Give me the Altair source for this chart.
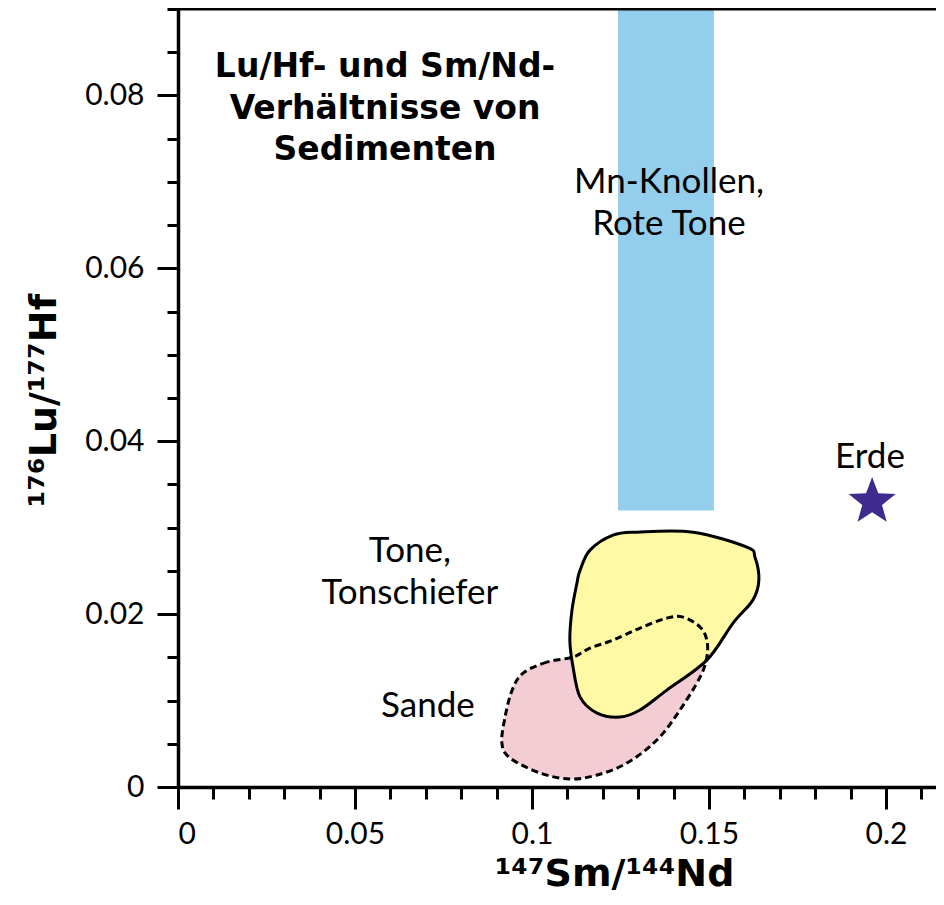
import altair as alt
import pandas as pd

# ---------------- data ----------------
X_MAX = 0.21414
Y_MAX = 0.09

x_major = [0, 0.05, 0.1, 0.15, 0.2]
x_minor = [round(i * 0.01, 2) for i in range(22)]
y_major = [0, 0.02, 0.04, 0.06, 0.08]
y_minor = [round(i * 0.005, 3) for i in range(19)]

band_x = [0.1243, 0.1514]
band_y = [0.032, 0.09]

tone_x = [0.1136, 0.1164, 0.1229, 0.1297, 0.1455, 0.1607, 0.1630, 0.1641, 0.1624, 0.1568,
          0.1494, 0.1381, 0.1305, 0.1249, 0.1184, 0.1136, 0.1116, 0.1107, 0.1113, 0.1127]
tone_y = [0.02509, 0.02740, 0.02913, 0.02948, 0.02948, 0.02775, 0.02659, 0.02393, 0.02162, 0.01896,
          0.01468, 0.01121, 0.00890, 0.00809, 0.00855, 0.01040, 0.01387, 0.01699, 0.02046, 0.02358]

sande_x = [0.1116, 0.1042, 0.0975, 0.0944, 0.0924, 0.0915, 0.0938, 0.1023, 0.1107, 0.1184, 0.1268,
           0.1353, 0.1418, 0.1475, 0.1494, 0.1494, 0.1475, 0.1427, 0.1381, 0.1305, 0.1229, 0.1164]
sande_y = [0.01503, 0.01445, 0.01318, 0.01121, 0.00809, 0.00509, 0.00335, 0.00162, 0.00092, 0.00139,
           0.00277, 0.00543, 0.00890, 0.01272, 0.01503, 0.01699, 0.01850, 0.01965, 0.01954, 0.01838,
           0.01699, 0.01607]

star_x = [0.1961]
star_y = [0.0330]

title_text = ["Lu/Hf- und Sm/Nd-\nVerhältnisse von\nSedimenten"]
title_x = [0.0585]
title_y = [0.0821]

label_text = ["Mn-Knollen,\nRote Tone", "Tone,\nTonschiefer", "Sande", "Erde"]
label_x = [0.1387, 0.0655, 0.0706, 0.1955]
label_y = [0.0687, 0.0260, 0.0081, 0.0369]

x_title = "¹⁴⁷Sm/¹⁴⁴Nd"
y_title = "¹⁷⁶Lu/¹⁷⁷Hf"

# ---------------- tables ----------------
df_band = pd.DataFrame({"x0": [band_x[0]], "x1": [band_x[1]], "y0": [band_y[0]], "y1": [band_y[1]]})
df_tone = pd.DataFrame({"x": tone_x, "y": tone_y, "i": list(range(len(tone_x)))})
df_sande = pd.DataFrame({"x": sande_x, "y": sande_y, "i": list(range(len(sande_x)))})
df_star = pd.DataFrame({"x": star_x, "y": star_y})
df_title = pd.DataFrame({"x": title_x, "y": title_y, "t": title_text})
df_lab = pd.DataFrame({"x": label_x, "y": label_y, "t": label_text})
df_top = pd.DataFrame({"y": [Y_MAX]})

xs = alt.Scale(domain=[0, X_MAX], nice=False, zero=False)
ys = alt.Scale(domain=[0, Y_MAX], nice=False, zero=False)

LABEL_FONT = "Lato, Open Sans, sans-serif"
TITLE_FONT = "DejaVu Sans, sans-serif"

x_axis_major = alt.Axis(
    orient="bottom", values=x_major, format="~g", tickSize=22, tickWidth=3, tickColor="black",
    domainWidth=3.5, domainColor="black", labelFont=LABEL_FONT, labelFontSize=30,
    labelColor="black", labelPadding=10, grid=False,
    title=x_title, titleFont=TITLE_FONT, titleFontSize=38, titleFontWeight="bold",
    titleColor="black", titleX=436, titleY=98, titleAlign="center", titleBaseline="alphabetic",
)
y_axis_major = alt.Axis(
    orient="left", values=y_major, format="~g", tickSize=21, tickWidth=3, tickColor="black",
    domainWidth=3.5, domainColor="black", labelFont=LABEL_FONT, labelFontSize=30,
    labelColor="black", labelPadding=13, grid=False,
    title=y_title, titleFont=TITLE_FONT, titleFontSize=38, titleFontWeight="bold",
    titleColor="black", titleX=-123, titleY=391, titleAngle=270, titleAlign="center",
    titleBaseline="alphabetic",
)
x_axis_minor = alt.Axis(
    orient="bottom", values=x_minor, tickSize=12, tickWidth=3, tickColor="black",
    domain=False, labels=False, title=None, grid=False,
)
y_axis_minor = alt.Axis(
    orient="left", values=y_minor, tickSize=11, tickWidth=3, tickColor="black",
    domain=False, labels=False, title=None, grid=False,
)

band = alt.Chart(df_band).mark_rect(color="#93CFEC").encode(
    x=alt.X("x0:Q", scale=xs, axis=x_axis_major),
    x2="x1:Q",
    y=alt.Y("y0:Q", scale=ys, axis=y_axis_major),
    y2="y1:Q",
)

sande_fill = alt.Chart(df_sande).mark_line(
    interpolate="cardinal-closed", filled=True, fill="#F3CDD3", strokeWidth=0
).encode(
    x=alt.X("x:Q", scale=xs, axis=x_axis_minor),
    y=alt.Y("y:Q", scale=ys, axis=y_axis_minor),
    order="i:Q",
)

tone_fill = alt.Chart(df_tone).mark_line(
    interpolate="cardinal-closed", filled=True, fill="#FFF9A6", stroke="black", strokeWidth=3
).encode(
    x=alt.X("x:Q", scale=xs, axis=None),
    y=alt.Y("y:Q", scale=ys, axis=None),
    order="i:Q",
)

sande_line = alt.Chart(df_sande).mark_line(
    interpolate="cardinal-closed", color="black", strokeWidth=3, strokeDash=[7, 4]
).encode(
    x=alt.X("x:Q", scale=xs, axis=None),
    y=alt.Y("y:Q", scale=ys, axis=None),
    order="i:Q",
)

top_rule = alt.Chart(df_top).mark_rule(color="black", strokeWidth=3).encode(
    y=alt.Y("y:Q", scale=ys, axis=None),
)

STAR = ("M0,-1L0.2469,-0.3398L0.9511,-0.309L0.3995,0.1298L0.5878,0.809L0,0.42"
        "L-0.5878,0.809L-0.3995,0.1298L-0.9511,-0.309L-0.2469,-0.3398Z")
star = alt.Chart(df_star).mark_point(
    shape=STAR, size=2450, filled=True, color="#3F2A8E", opacity=1, strokeWidth=0
).encode(
    x=alt.X("x:Q", scale=xs, axis=None),
    y=alt.Y("y:Q", scale=ys, axis=None),
)

title = alt.Chart(df_title).mark_text(
    font="DejaVu Sans", fontSize=33, fontWeight="bold", align="center",
    baseline="alphabetic", lineBreak="\n", lineHeight=41.5, color="black"
).encode(
    x=alt.X("x:Q", scale=xs, axis=None),
    y=alt.Y("y:Q", scale=ys, axis=None),
    text="t:N",
)

labels = alt.Chart(df_lab).mark_text(
    font=LABEL_FONT, fontSize=35, align="center", baseline="alphabetic",
    lineBreak="\n", lineHeight=42, color="black"
).encode(
    x=alt.X("x:Q", scale=xs, axis=None),
    y=alt.Y("y:Q", scale=ys, axis=None),
    text="t:N",
)

chart = alt.layer(
    band, sande_fill, tone_fill, sande_line, top_rule, star, title, labels
).resolve_axis(
    x="independent", y="independent"
).properties(
    width=758, height=778, autosize="none",
    padding={"left": 170, "top": 1, "right": 0, "bottom": 108},
    background="white",
).configure_view(stroke=None)

chart.save("out.html", embed_options={"renderer": "svg", "actions": False})
